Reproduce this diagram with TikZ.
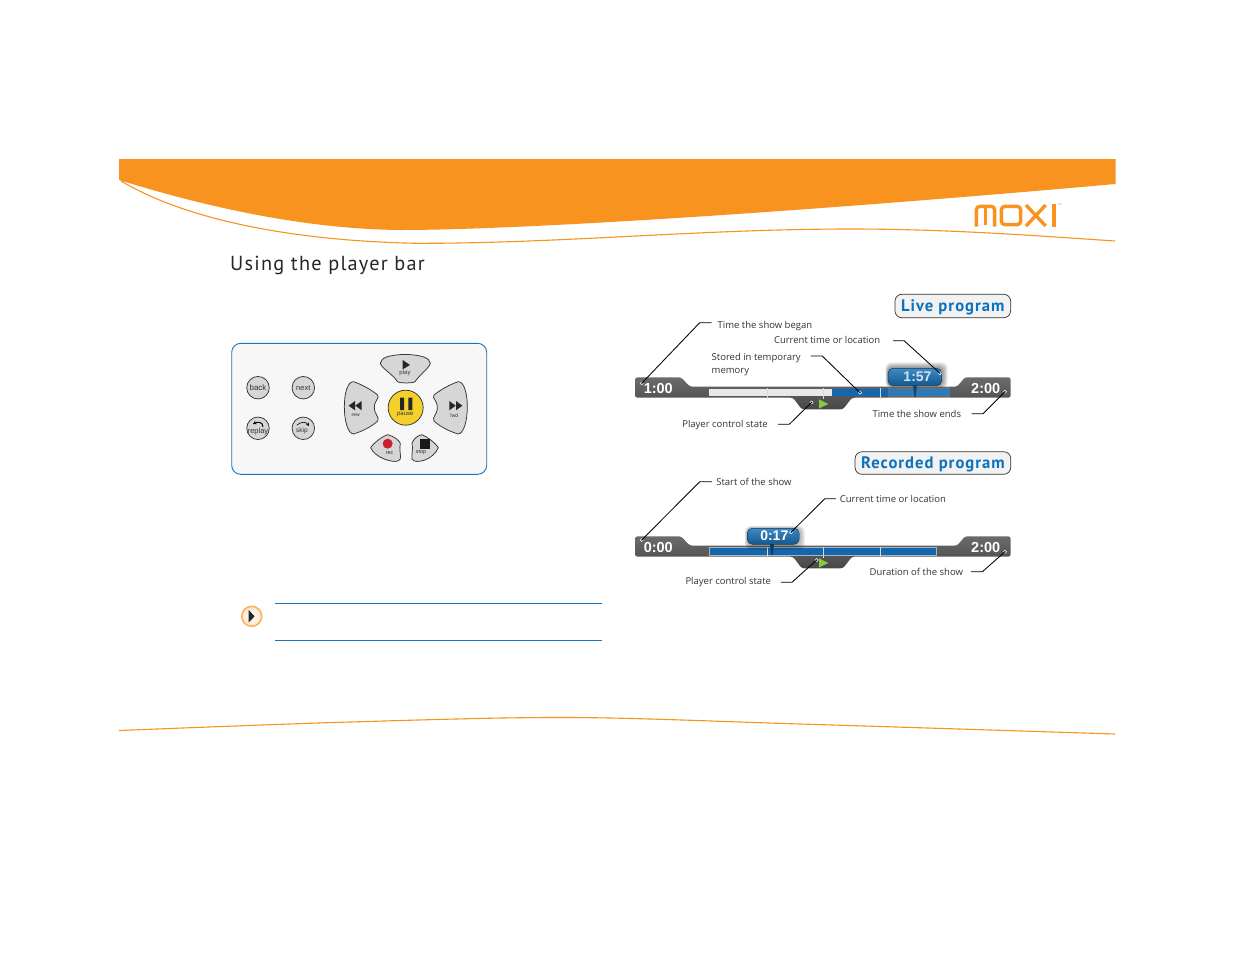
\documentclass[tikz,border=0pt]{standalone}
\usepackage{fontspec}
\setmainfont{Open Sans}
\newfontfamily\din[LetterSpace=6]{PT Sans}
\newfontfamily\helv{Liberation Sans}
\usetikzlibrary{arrows.meta}
\definecolor{moxiorange}{HTML}{F9931F}
\definecolor{rule}{HTML}{1A75BC}
\definecolor{badgeblue}{HTML}{0B72BD}
\definecolor{keygray}{HTML}{D6D6D6}
\definecolor{keyline}{HTML}{333333}
\definecolor{trackblue}{HTML}{1268B0}
\definecolor{labelink}{HTML}{333333}
\definecolor{pauseyellow}{HTML}{F6D02A}
\definecolor{recred}{HTML}{C8202F}
\definecolor{playgreen}{HTML}{8DC63F}
\tikzset{
  x=1pt,y=-1pt,
  inline sep/.style={inner sep=0pt,outer sep=0pt},
  lab/.style={inline sep,font=\fontsize{9.5}{13}\selectfont,text=labelink,anchor=west,align=left},
  leader/.style={draw=black,line width=.85pt,line join=round},
  tip/.style={circle,draw=white,line width=.45pt,minimum size=3pt,inner sep=0pt,outer sep=0pt},
  key/.style={draw=keyline,fill=keygray,line width=.75pt,line join=round},
  roundkey/.style={circle,key,minimum size=22.5pt,inner sep=0pt},
  keytext/.style={inner sep=0pt,text=black!80,font=\helv\fontsize{6}{6}\selectfont},
  badge/.style={draw=keyline,fill=black!5,line width=.7pt,rounded corners=7pt,text=badgeblue,
     font=\din\bfseries\fontsize{16.6}{18}\selectfont,inner sep=0pt,anchor=center,text depth=0pt},
  bartime/.style={inner sep=0pt,text=white,font=\helv\bfseries\fontsize{14.5}{15}\selectfont},
  bubble/.style={rounded corners=5pt,draw=rule!50!black,line width=.5pt,top color=rule!85!white,bottom color=rule!75!black},
}
% Dark bar with its end caps and the control-state tab; drawn relative to the scope origin.
\newcommand{\barbody}{%
  \path[top color=black!58,bottom color=black!72,rounded corners=2.5pt]
    (635,377.3) -- (681,377.3) -- (690,386.7) -- (957,386.7) -- (965,377.3) -- (1010.7,377.3)
    -- (1010.7,397.7) -- (852,397.7) -- (843,409.3) -- (801.7,409.3) -- (793,397.7)
    -- (635,397.7) -- cycle;
}
\newcommand{\barticks}{%
  \foreach \tx in {766.7,822.7,880} \draw[white!85!black,line width=.4pt] (\tx,388) -- (\tx,398.5);
  \fill[playgreen] (819,399.3) -- (828.3,404) -- (819,408.5) -- cycle;
}
\begin{document}
\begin{tikzpicture}
\useasboundingbox (0,0) rectangle (1235,954);
\fill[white] (0,0) rectangle (1235,954);

% Page header band and swoosh
\fill[moxiorange] (119,159) -- (1115.5,159) -- (1115.5,184)
  .. controls (800,212) and (520,230) .. (400,230)
  .. controls (300,229) and (200,205) .. (119,180) -- cycle;
\draw[moxiorange,line width=1.1pt] (121,181) .. controls (190,222) and (300,241) .. (417,243.3)
  .. controls (560,243.6) and (700,229) .. (850,229) .. controls (950,229) and (1040,236) .. (1115,241);

% Logotype
\begin{scope}[shift={(900,150)},x=.333333pt,y=-.333333pt,draw=moxiorange,line width=3.4pt]
  \draw[rounded corners=3.5pt] (229,230) -- (229,169) -- (284,169) -- (284,230);
  \draw (256,169) -- (256,226);
  \draw[rounded corners=3.5pt] (304,169) rectangle (362,224);
  \draw (378,165) -- (437,228) (437,165) -- (378,228);
  \draw (462,163) -- (462,230);
  \node[inner sep=0pt,text=moxiorange,font=\helv\fontsize{4}{4}\selectfont] (moxitm) at (479,165) {™};
\end{scope}

% Footer swoosh
\draw[moxiorange,line width=1.1pt] plot[smooth,tension=.55] coordinates {(119,730.5) (350,722) (570,717.5) (800,724) (1115,734)};

% Heading
\node[inner sep=0pt,anchor=west,text=black!85,font=\din\fontsize{20.3}{24}\selectfont] (heading) at (230,265.5) {Using the player bar};

% Remote control panel
\draw[rule,fill=black!3,line width=.9pt,rounded corners=9pt] (231.7,343.3) rectangle (486.7,474.3);
\node[roundkey] (back) at (258,387.7) {};
\node[roundkey] (next) at (303.3,387.7) {};
\node[roundkey] (replay) at (258,428.3) {};
\node[roundkey] (skip) at (303.3,428.3) {};
\node[keytext,font=\helv\fontsize{8}{8}\selectfont] (backt) at (258,388) {back};
\node[keytext,font=\helv\fontsize{7.5}{8}\selectfont] (nextt) at (303.3,388) {next};
\node[keytext,font=\helv\fontsize{7.5}{8}\selectfont] (replayt) at (258,431.5) {replay};
\node[keytext,font=\helv\fontsize{6.5}{8}\selectfont] (skipt) at (302,431) {skip};
\draw[black,line width=1pt,-{Stealth[length=3.5pt,width=4pt]}] (263,427) .. controls (263,422) and (258,421.5) .. (253,424);
\draw[black,line width=.6pt,-{Stealth[length=3pt,width=3.5pt]}] (297,425) .. controls (301,421.5) and (306,421.5) .. (309,426);
\begin{scope}[shift={(225,335)},x=.333333pt,y=-.333333pt]
  % play
  \draw[key] (466,85) .. controls (468,68) and (490,60) .. (540,58) .. controls (590,60) and (614,68) .. (616,85)
     .. controls (612,100) and (585,118) .. (570,140) .. controls (565,145) and (522,145) .. (518,140)
     .. controls (500,115) and (470,100) .. (466,85) -- cycle;
  % rewind
  \draw[key] (358,215) .. controls (358,175) and (368,140) .. (385,140) .. controls (410,148) and (440,165) .. (458,180)
     .. controls (465,190) and (448,195) .. (448,218) .. controls (448,240) and (465,245) .. (458,258)
     .. controls (440,275) and (410,290) .. (385,297) .. controls (368,295) and (358,255) .. (358,215) -- cycle;
  % fast forward
  \draw[key] (727,215) .. controls (727,175) and (717,140) .. (700,140) .. controls (675,148) and (645,165) .. (627,180)
     .. controls (620,190) and (637,195) .. (637,218) .. controls (637,240) and (620,245) .. (627,258)
     .. controls (645,275) and (675,290) .. (700,297) .. controls (717,295) and (727,255) .. (727,215) -- cycle;
  % record
  \draw[key] (437,338) .. controls (445,325) and (470,305) .. (488,299) .. controls (505,303) and (522,315) .. (526,325)
     .. controls (522,340) and (528,360) .. (526,372) .. controls (520,382) and (505,380) .. (490,376)
     .. controls (465,370) and (442,352) .. (437,338) -- cycle;
  % stop
  \draw[key] (640,338) .. controls (632,325) and (607,305) .. (590,299) .. controls (573,303) and (565,315) .. (561,325)
     .. controls (565,340) and (559,360) .. (561,372) .. controls (567,382) and (582,380) .. (597,376)
     .. controls (617,370) and (635,352) .. (640,338) -- cycle;
  % pause
  \node[circle,draw=keyline,fill=pauseyellow,line width=.75pt,minimum size=35pt,inner sep=0pt] (pause) at (542,218) {};
  \fill[black!85] (525,188) rectangle (537,225) (550,188) rectangle (562,225);
  \fill[black!85] (533,75) -- (555,90) -- (533,103) -- cycle;
  \fill[black!85] (371,212) -- (390,198) -- (390,226) -- cycle (391,212) -- (410,198) -- (410,226) -- cycle;
  \fill[black!85] (673,198) -- (692,212) -- (673,226) -- cycle (693,198) -- (712,212) -- (693,226) -- cycle;
  \fill[recred] (488,326) circle[radius=15];
  \fill[black!90] (585,313) rectangle (615,342);
  \node[keytext] (playt) at (540,115) {play};
  \node[keytext] (pauset) at (541,239) {pause};
  \node[keytext,font=\helv\fontsize{5}{6}\selectfont] (rewt) at (392,242) {rew};
  \node[keytext,font=\helv\fontsize{5}{6}\selectfont] (fwdt) at (688,242) {fwd};
  \node[keytext,font=\helv\fontsize{5.5}{6}\selectfont] (rect) at (494,353) {rec};
  \node[keytext,font=\helv\fontsize{5.5}{6}\selectfont] (stopt) at (588,352) {stop};
\end{scope}

% Note marker and the rules around its text
\node[circle,draw=moxiorange!70,line width=1.6pt,inner color=white,outer color=moxiorange!25,minimum size=20pt,inner sep=0pt] (notemark) at (251.7,616.3) {};
\fill[black!85] (248.7,610) -- (254.6,616.3) -- (248.7,622.5) -- cycle;
\coordinate (ruleAl) at (275,603.5); \coordinate (ruleAr) at (601.5,603.5);
\coordinate (ruleBl) at (275,640.5); \coordinate (ruleBr) at (601.5,640.5);
\draw[rule,line width=.8pt] (ruleAl) -- (ruleAr);
\draw[rule,line width=.8pt] (ruleBl) -- (ruleBr);

% Live program bar
\node[badge,minimum width=115.7pt,minimum height=23.5pt] (live) at (952.8,306) {Live program};
\barbody
\fill[black!9] (709.3,388.7) rectangle (831.7,396);
\fill[trackblue] (831.7,388.7) rectangle (950,396);
\fill[white,opacity=.12] (888,386) rectangle (950,400);
\barticks
\foreach \g in {6,5,4,3,2,1}
  \fill[black,opacity=.08,rounded corners=6pt] (888-\g*.4,368.3-\g) rectangle (941.7+\g,385.7+\g*.4);
\draw[bubble] (888,368.3) rectangle (941.7,385.7);
\fill[rule!60!black] (913,385) -- (917,385) -- (915.6,397) -- (914.4,397) -- cycle;
\node[bartime,font=\helv\bfseries\fontsize{14}{15}\selectfont,text=white!80!rule] (liveNow) at (917.5,377) {1:57};
\node[bartime] (liveStart) at (658.3,388.3) {1:00};
\node[bartime] (liveEnd) at (985.7,388.3) {2:00};

\node[lab] (lBegan) at (717.7,326.5) {Time the show began};
\node[lab] (lNow) at (774,339.7) {Current time or location};
\node[lab] (lStored) at (711.7,364.2) {Stored in temporary\\memory};
\node[lab] (lState) at (682.3,424.8) {Player control state};
\node[lab] (lEnds) at (872.5,414) {Time the show ends};
\node[tip] (tBegan) at (641.7,383.3) {};
\node[tip] (tNow) at (940,373.3) {};
\node[tip] (tStored) at (860,392.7) {};
\node[tip] (tState) at (811.7,402.3) {};
\node[tip] (tEnds) at (1005,391.7) {};
\draw[leader] (lBegan.west) ++(-6,-3.8) -- ++(-12,0) -- (tBegan.center);
\draw[leader] (lNow.east) ++(13,1) -- ++(11,0) -- (tNow.center);
\draw[leader] (lStored.east) ++(10,-8.2) -- ++(11.5,0) -- (tStored.center);
\draw[leader] (lState.east) ++(10,-.5) -- ++(11.5,0) -- (tState.center);
\draw[leader] (lEnds.east) ++(10.5,-.3) -- ++(11.5,0) -- (tEnds.center);

% Recorded program bar
\node[badge,minimum width=155.7pt,minimum height=22.6pt] (recorded) at (932.9,463) {Recorded program};
\begin{scope}[shift={(0,159)}]
  \barbody
  \fill[trackblue,draw=white!70!black,line width=.3pt] (709.3,388.3) rectangle (935.7,396);
  \barticks
  \foreach \g in {6,5,4,3,2,1}
    \fill[black,opacity=.06,rounded corners=6pt] (747.3-\g*.4,369.3-\g*.4) rectangle (799+\g,385.3+\g);
  \draw[bubble] (747.3,369.3) rectangle (799,385.3);
  \fill[rule!50!black] (770,385) -- (774,385) -- (772.6,396) -- (771.4,396) -- cycle;
\end{scope}
\node[bartime,font=\helv\bfseries\fontsize{14}{15}\selectfont] (recNow) at (774.3,536) {0:17};
\node[bartime] (recStart) at (658.3,547) {0:00};
\node[bartime] (recEnd) at (985.7,547) {2:00};

\node[lab] (rStart) at (716.3,481.7) {Start of the show};
\node[lab] (rNow) at (839.8,498.7) {Current time or location};
\node[lab] (rState) at (685.5,582.3) {Player control state};
\node[lab] (rDur) at (869.7,572.3) {Duration of the show};
\node[tip] (uStart) at (641.7,540) {};
\node[tip] (uNow) at (791,532.3) {};
\node[tip] (uState) at (816.7,560) {};
\node[tip] (uDur) at (1005,551.7) {};
\draw[leader] (rStart.west) ++(-4.5,0) -- ++(-12,0) -- (uStart.center);
\draw[leader] (rNow.west) ++(-4,0) -- ++(-11,0) -- (uNow.center);
\draw[leader] (rState.east) ++(10,0) -- ++(11,0) -- (uState.center);
\draw[leader] (rDur.east) ++(8,-.6) -- ++(11.5,0) -- (uDur.center);
\end{tikzpicture}
\end{document}
